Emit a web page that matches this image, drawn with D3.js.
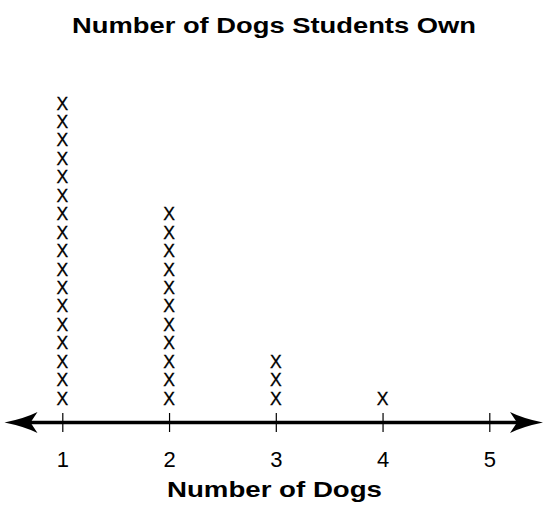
<!DOCTYPE html>
<html>
<head>
<meta charset="utf-8">
<script src="https://cdn.jsdelivr.net/npm/d3@7"></script>
<style>
html, body { margin: 0; padding: 0; background: #fff; }
svg { display: block; }
</style>
</head>
<body>
<svg id="chart" width="547" height="519"></svg>
<script>
const categories = [1, 2, 3, 4, 5];
const counts = [17, 11, 3, 1, 0];
const tickLabels = ["1", "2", "3", "4", "5"];
const title = "Number of Dogs Students Own";
const xTitle = "Number of Dogs";

const svg = d3.select("#chart");
const font = "'Liberation Sans', Arial, Helvetica, sans-serif";
const axisY = 422.5;

const x = d3.scaleLinear().domain([1, 5]).range([62.3, 489.3]);
const y = d3.scaleLinear().domain([1, 17]).range([398.3, 103.3]);

// title
svg.append("text")
  .attr("x", 274).attr("y", 33)
  .attr("text-anchor", "middle")
  .attr("font-family", font).attr("font-weight", "bold").attr("font-size", 22.5)
  .attr("textLength", 404).attr("lengthAdjust", "spacingAndGlyphs")
  .attr("fill", "#000")
  .text(title);

// axis with ticks
const axis = d3.axisBottom(x)
  .tickValues(categories)
  .tickFormat((d, i) => tickLabels[i])
  .tickSize(19)
  .tickPadding(0);
const g = svg.append("g").attr("transform", `translate(0,${axisY - 9.5})`).call(axis);
g.select(".domain").remove();
g.selectAll(".tick line").attr("stroke", "#000").attr("stroke-width", 1.2);
g.selectAll(".tick text")
  .attr("font-family", font).attr("font-size", 22).attr("fill", "#000")
  .attr("dy", null).attr("y", 54);

// main line
svg.append("line")
  .attr("x1", 25).attr("x2", 522)
  .attr("y1", axisY).attr("y2", axisY)
  .attr("stroke", "#000").attr("stroke-width", 3.6);

// arrowheads
function arrow(tip, dir) {
  const back = tip - dir * 33;
  const notch = tip - dir * 26;
  return `M${tip},${axisY} Q${tip - dir * 20},${axisY - 4} ${back},${axisY - 10.5} L${notch},${axisY} L${back},${axisY + 10.5} Q${tip - dir * 20},${axisY + 4} ${tip},${axisY} Z`;
}
svg.append("path").attr("d", arrow(4.5, -1)).attr("fill", "#000");
svg.append("path").attr("d", arrow(543, 1)).attr("fill", "#000");

// X marks
const marks = [];
categories.forEach((c, i) => {
  for (let k = 1; k <= counts[i]; k++) marks.push({ c, k });
});
svg.append("g").selectAll("text").data(marks).join("text")
  .attr("x", d => x(d.c))
  .attr("y", d => y(d.k))
  .attr("dy", "0.36em")
  .attr("text-anchor", "middle")
  .attr("font-family", font).attr("font-size", 17.5).attr("fill", "#000")
  .attr("stroke", "#000").attr("stroke-width", 0.3)
  .text("X");

// x axis title
svg.append("text")
  .attr("x", 274.5).attr("y", 497)
  .attr("text-anchor", "middle")
  .attr("font-family", font).attr("font-weight", "bold").attr("font-size", 22.5)
  .attr("textLength", 215).attr("lengthAdjust", "spacingAndGlyphs")
  .attr("fill", "#000")
  .text(xTitle);
</script>
</body>
</html>
